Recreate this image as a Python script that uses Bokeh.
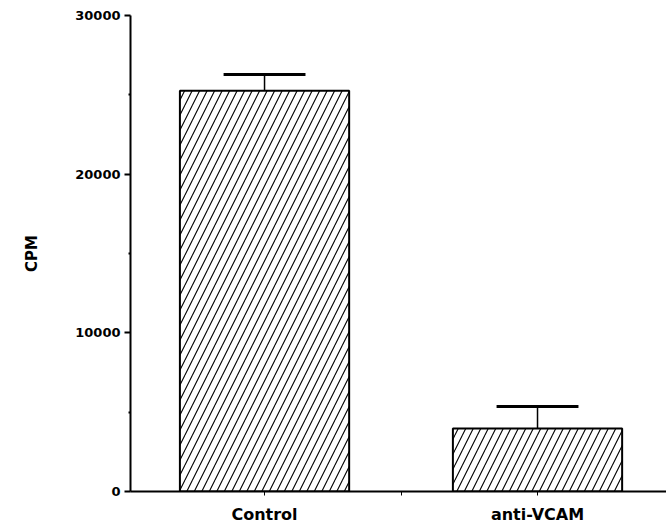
from bokeh.plotting import figure
from bokeh.models import ColumnDataSource, Range1d, FixedTicker
from bokeh.embed import file_html
from bokeh.resources import INLINE

categories = ["Control", "anti-VCAM"]
cpm = [25250, 3970]
sem = [1030, 1380]
y_ticks = [0, 10000, 20000, 30000]

xs = [i + 1 for i in range(len(categories))]
tops = [c + s for c, s in zip(cpm, sem)]
cap = 0.15

src = ColumnDataSource(dict(x=xs, top=cpm, err=tops,
                            x0=[x - cap for x in xs], x1=[x + cap for x in xs]))

p = figure(width=666, height=527, output_backend="svg", toolbar_location=None,
           x_range=Range1d(0.509, 2.4725), y_range=Range1d(0, 30000),
           min_border_left=130, min_border_right=0, min_border_top=15, min_border_bottom=36)
p.outline_line_color = None
p.grid.visible = False
p.background_fill_color = "white"

p.vbar(x="x", top="top", bottom=0, width=0.62, source=src, fill_color="white",
       line_color="black", line_width=2, hatch_pattern="/", hatch_color="black",
       hatch_scale=15, hatch_weight=1.1)
p.segment(x0="x", y0="top", x1="x", y1="err", source=src, line_color="black", line_width=1.5)
p.segment(x0="x0", y0="err", x1="x1", y1="err", source=src, line_color="black", line_width=3)

font = "DejaVu Sans"
yax = p.yaxis[0]
yax.ticker = FixedTicker(ticks=y_ticks, minor_ticks=[5000, 15000, 25000])
yax.axis_line_width = 2
yax.major_tick_in = 0
yax.major_tick_out = 6
yax.major_tick_line_width = 2
yax.minor_tick_in = 0
yax.minor_tick_out = 2
yax.minor_tick_line_width = 2
yax.major_label_text_font = font
yax.major_label_text_font_style = "bold"
yax.major_label_text_font_size = "13px"
yax.major_label_text_color = "black"
yax.major_label_standoff = 4
yax.axis_label = "CPM"
yax.axis_label_text_font = font
yax.axis_label_text_font_style = "bold"
yax.axis_label_text_font_size = "15px"
yax.axis_label_text_color = "black"
yax.axis_label_standoff = 31

xax = p.xaxis[0]
xax.ticker = FixedTicker(ticks=xs, minor_ticks=[1.5])
xax.major_label_overrides = {x: c for x, c in zip(xs, categories)}
xax.axis_line_width = 2
xax.major_tick_in = 0
xax.major_tick_out = 4
xax.minor_tick_in = 0
xax.minor_tick_out = 4
xax.major_label_text_font = font
xax.major_label_text_font_style = "bold"
xax.major_label_text_font_size = "16px"
xax.major_label_text_color = "black"
xax.major_label_standoff = 9

open("out.html", "w").write(file_html(p, INLINE))
